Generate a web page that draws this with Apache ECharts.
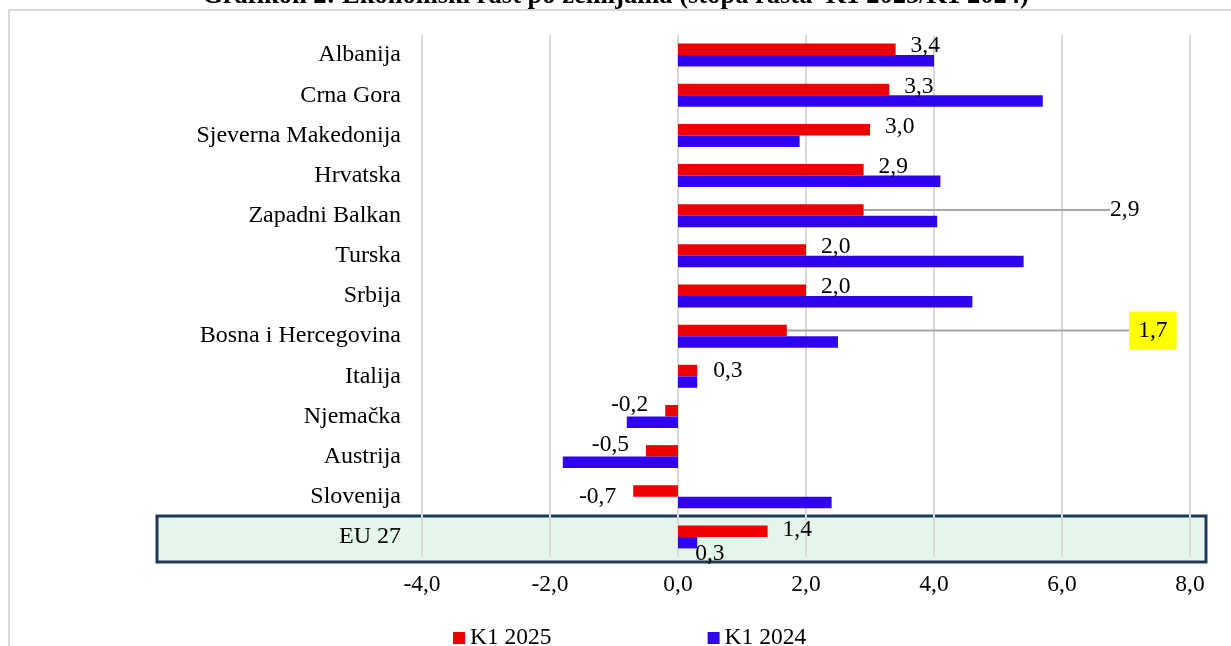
<!DOCTYPE html>
<html>
<head>
<meta charset="utf-8">
<script src="https://cdn.jsdelivr.net/npm/echarts@6/dist/echarts.min.js"></script>
<style>
  html, body { margin: 0; padding: 0; background: #fff; }
  #chart { width: 1231px; height: 646px; }
</style>
</head>
<body>
<div id="chart"></div>
<script>
// podaci (stopa rasta, %)
var countries = ['Albanija', 'Crna Gora', 'Sjeverna Makedonija', 'Hrvatska', 'Zapadni Balkan',
  'Turska', 'Srbija', 'Bosna i Hercegovina', 'Italija', 'Njemačka', 'Austrija', 'Slovenija', 'EU 27'];
var k1_2025 = [3.4, 3.3, 3.0, 2.9, 2.9, 2.0, 2.0, 1.7, 0.3, -0.2, -0.5, -0.7, 1.4];
var k1_2024 = [4.0, 5.7, 1.9, 4.1, 4.05, 5.4, 4.6, 2.5, 0.3, -0.8, -1.8, 2.4, 0.3];
var xTicks = [-4, -2, 0, 2, 4, 6, 8];

var FONT = "'Liberation Serif', 'Times New Roman', serif";
var RED = '#ee0000';
var BLUE = '#3005ee';

function fmt(v) {
  return v.toFixed(1).replace('.', ',');
}

var chart = echarts.init(document.getElementById('chart'));

// labele za K1 2025 - podaci s vodilicom (Zapadni Balkan, BiH), x u jedinicama osi
var leaderAt = { 'Zapadni Balkan': 6.75, 'Bosna i Hercegovina': 7.05 };

// pomak labela gore/dolje
function labelDy(name, v) {
  if (name === 'Slovenija') return 6;
  if (v < 0) return -6;
  if (name === 'Italija') return 0;
  if (name === 'EU 27') return -1;
  return -3;
}

var redData = k1_2025.map(function (v, i) {
  var name = countries[i];
  var item = { value: v };
  if (v < 0) {
    item.label = { position: 'left', distance: 17 };
  } else {
    item.label = { position: 'right', distance: name === 'Italija' ? 16 : 15 };
  }
  if (name === 'Bosna i Hercegovina') {
    item.label.backgroundColor = '#ffff00';
    item.label.padding = [8, 9, 6, 9];
  }
  if (leaderAt[name] !== undefined) {
    item.labelLine = { show: true, lineStyle: { color: '#a6a6a6', width: 2 } };
  }
  return item;
});

var blueData = k1_2024.map(function (v, i) {
  var item = { value: v };
  if (countries[i] === 'EU 27') {
    item.label = { show: true, position: 'right', distance: 0 };
  }
  return item;
});

var option = {
  backgroundColor: '#ffffff',
  animation: false,
  textStyle: { fontFamily: FONT },
  title: {
    text: 'Grafikon 2: Ekonomski rast po zemljama (stopa rasta  K1 2025/K1 2024)',
    left: 'center',
    top: -22,
    textStyle: { fontFamily: FONT, fontSize: 26.5, fontWeight: 'bold', color: '#000' }
  },
  legend: {
    data: ['K1 2025', 'K1 2024'],
    left: 448,
    top: 621,
    itemWidth: 12,
    itemHeight: 12,
    itemGap: 156,
    icon: 'rect',
    textStyle: { fontFamily: FONT, fontSize: 23.5, color: '#000' }
  },
  grid: { left: 422, right: 41, top: 35, bottom: 89, containLabel: false },
  xAxis: {
    type: 'value',
    min: -4,
    max: 8,
    interval: 2,
    axisLine: { show: false },
    axisTick: { show: false },
    splitLine: { show: true, lineStyle: { color: '#d9d9d9', width: 2 } },
    axisLabel: {
      margin: 16,
      fontFamily: FONT, fontSize: 23.5, color: '#000',
      formatter: function (v) { return fmt(v); }
    }
  },
  yAxis: {
    type: 'category',
    data: countries,
    inverse: true,
    axisLine: { show: false, onZero: false },
    axisTick: { show: false },
    splitLine: { show: false },
    axisLabel: { margin: 21, fontFamily: FONT, fontSize: 24, color: '#000' }
  },
  series: [
    {
      name: 'K1 2025',
      type: 'bar',
      data: redData,
      barWidth: 11.5,
      barGap: '0%',
      itemStyle: { color: RED },
      label: {
        show: true,
        fontFamily: FONT, fontSize: 23.5, color: '#000',
        formatter: function (p) { return fmt(p.value); }
      },
      labelLayout: function (params) {
        var i = params.dataIndex;
        var name = countries[i];
        var v = k1_2025[i];
        if (leaderAt[name] !== undefined) {
          // piksela po jedinici iz same trake
          var ppu = params.rect.width / Math.abs(v);
          return {
            x: params.rect.x + leaderAt[name] * ppu,
            y: params.rect.y + params.rect.height / 2,
            verticalAlign: 'middle',
            align: 'left'
          };
        }
        return { dy: labelDy(name, v) };
      }
    },
    {
      name: 'K1 2024',
      type: 'bar',
      data: blueData,
      barWidth: 11.5,
      itemStyle: { color: BLUE },
      label: {
        show: false,
        fontFamily: FONT, fontSize: 23.5, color: '#000',
        formatter: function (p) { return fmt(p.value); }
      },
      labelLayout: function () {
        return { dx: -2, dy: 11 };
      }
    }
  ]
};

chart.setOption(option);

// okvir i isticanje reda EU 27
var euY = chart.convertToPixel({ yAxisIndex: 0 }, 'EU 27');
chart.setOption({
  graphic: [
    {
      type: 'rect',
      z: -10,
      silent: true,
      shape: { x: 9, y: 10, width: 1240, height: 700 },
      style: { fill: 'none', stroke: '#d9d9d9', lineWidth: 2 }
    },
    {
      type: 'rect',
      z: -10,
      silent: true,
      shape: { x: 157, y: euY - 21, width: 1049, height: 46 },
      style: { fill: '#e6f5ec', stroke: '#203a56', lineWidth: 3 }
    }
  ]
});
</script>
</body>
</html>
